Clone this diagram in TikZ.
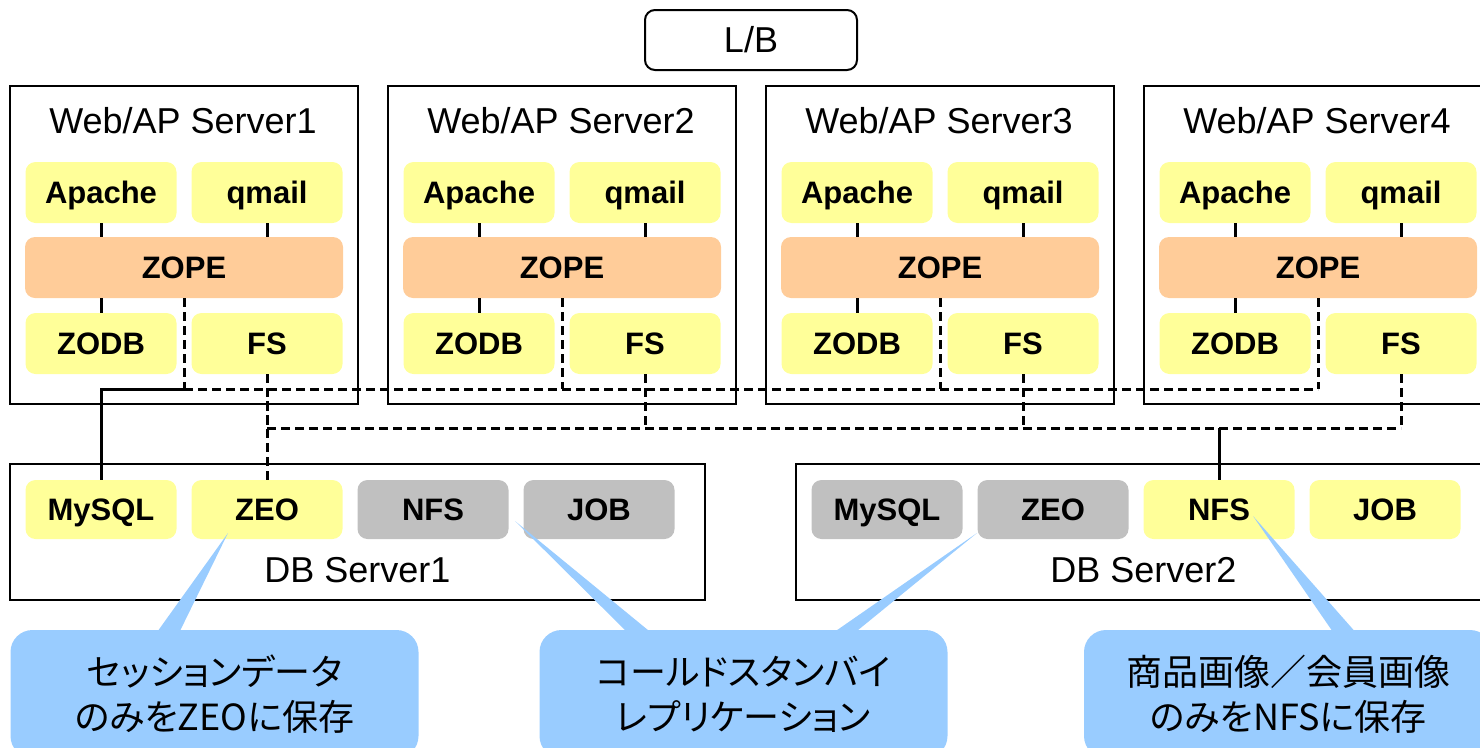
\documentclass[tikz,border=0pt]{standalone}
\usepackage{fontspec}
\setmainfont{Liberation Sans}
\newfontfamily\jpfont{Noto Sans CJK JP}[RawFeature=+palt]
\definecolor{itemyellow}{HTML}{FFFF99}
\definecolor{itemorange}{HTML}{FFCC99}
\definecolor{itemgrey}{HTML}{C0C0C0}
\definecolor{callblue}{HTML}{99CCFF}
\begin{document}
\begin{tikzpicture}[x=1pt,y=-1pt,
  box/.style={draw,line width=2pt,inner sep=0pt},
  title/.style={inner sep=0pt,text height=25pt,text depth=0pt,font=\fontsize{36}{40}\selectfont},
  item/.style={fill=itemyellow,rounded corners=10pt,inner sep=0pt,text height=22pt,text depth=0pt,
    minimum width=151pt,minimum height=61pt,font=\bfseries\fontsize{31}{36}\selectfont},
  link/.style={line width=3pt},
  bus/.style={line width=3pt,dash pattern=on 9pt off 5pt},
  memo/.style={fill=callblue,rounded corners=22pt,inner sep=0pt,align=center,
    minimum width=408pt,minimum height=128pt,font=\jpfont\fontsize{36}{45}\selectfont}]
\useasboundingbox (0,0) rectangle (1480,747);
\clip (0,0) rectangle (1480,747);
\node[box,rounded corners=10pt,minimum width=212pt,minimum height=60pt,title] (lb) at (751,40) {L/B};
\foreach \i [evaluate=\i as \ox using 378*(\i-1)] in {1,...,4} {
  \node[box,minimum width=348pt,minimum height=318pt] (web\i) at (184+\ox,245) {};
  \node[title] (webtitle\i) at (183+\ox,121) {Web/AP Server\i};
  \node[item] (apache\i) at (101+\ox,192.5) {Apache};
  \node[item] (qmail\i) at (267+\ox,192.5) {qmail};
  \node[item,fill=itemorange,minimum width=318pt] (zope\i) at (184+\ox,267.5) {ZOPE};
  \node[item] (zodb\i) at (101+\ox,343.5) {ZODB};
  \node[item] (fs\i) at (267+\ox,343.5) {FS};
  \draw[link] (apache\i.south) -- (apache\i.south |- zope\i.north);
  \draw[link] (qmail\i.south) -- (qmail\i.south |- zope\i.north);
  \draw[link] (zope\i.south -| zodb\i) -- (zodb\i.north);
}
\foreach \j/\ca/\cb [evaluate=\j as \ox using 786*(\j-1)] in {1/itemyellow/itemgrey,2/itemgrey/itemyellow} {
  \node[box,minimum width=695pt,minimum height=136pt] (db\j) at (357.5+\ox,532) {};
  \node[title] (dbtitle\j) at (357.5+\ox,570) {DB Server\j};
  \node[item,fill=\ca,minimum height=59pt] (mysql\j) at (101+\ox,509.5) {MySQL};
  \node[item,fill=\ca,minimum height=59pt] (zeo\j) at (267+\ox,509.5) {ZEO};
  \node[item,fill=\cb,minimum height=59pt] (nfs\j) at (433+\ox,509.5) {NFS};
  \node[item,fill=\cb,minimum height=59pt] (job\j) at (599+\ox,509.5) {JOB};
}
\coordinate (busa) at (0,389);
\coordinate (busb) at (0,428);
\foreach \i in {1,...,4} {
  \draw[bus] (zope\i.south) -- (zope\i.south |- busa);
  \draw[bus] (fs\i.south) -- (fs\i.south |- busb);
}
\draw[bus] (zope1.south |- busa) -- (zope4.south |- busa);
\draw[bus] (fs1.south |- busb) -- (fs4.south |- busb);
\draw[link] (mysql1.north) |- (zope1.south |- busa);
\draw[bus] (zeo1.north) -- (zeo1.north |- busa);
\draw[link] (nfs2.north) -- (nfs2.north |- busb);
% callouts
\coordinate (tipa) at (228,533);
\coordinate (tipb) at (515,521);
\coordinate (tipc) at (977,533);
\coordinate (tipd) at (1253,516);
\fill[callblue] (tipa) -- (155,635) -- (178,635) -- cycle;
\fill[callblue] (tipb) -- (630,635) -- (654,635) -- cycle;
\fill[callblue] (tipc) -- (830,635) -- (852,635) -- cycle;
\fill[callblue] (tipd) -- (1335,635) -- (1358,635) -- cycle;
\node[memo] (memo1) at (214.5,694) {セッションデータ\\のみをZEOに保存};
\node[memo] (memo2) at (743.5,694) {コールドスタンバイ\\レプリケーション};
\node[memo] (memo3) at (1288,694) {商品画像／会員画像\\のみをNFSに保存};
\end{tikzpicture}
\end{document}
